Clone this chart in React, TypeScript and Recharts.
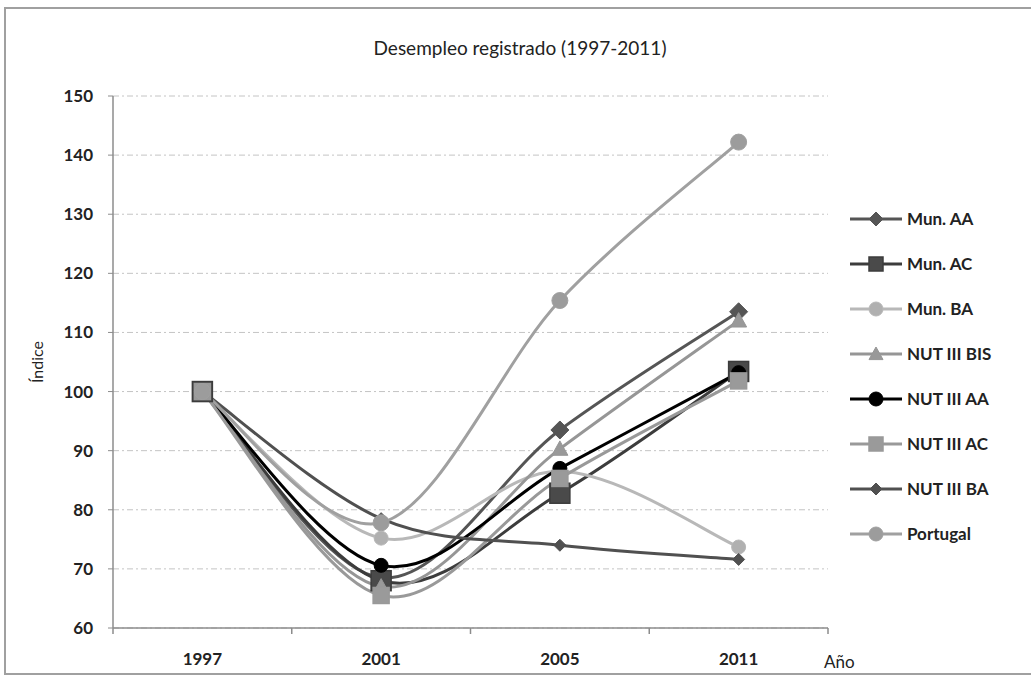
import React from 'react';
import { LineChart, Line, XAxis, YAxis, CartesianGrid } from 'recharts';

const years = ['1997', '2001', '2005', '2011'];
const yTicks = [60, 70, 80, 90, 100, 110, 120, 130, 140, 150];

const munAA = [100, 68.5, 93.5, 113.5];
const munAC = [100, 68, 82.8, 103.4];
const munBA = [100, 75.2, 86.5, 73.7];
const nutBIS = [100, 67, 90.3, 112];
const nutAA = [100, 70.6, 87, 103.2];
const nutAC = [100, 65.5, 85.3, 101.8];
const nutBA = [100, 78.5, 74, 71.6];
const portugal = [100, 77.8, 115.4, 142.2];

type Shape = 'diamond' | 'square' | 'circle' | 'triangle' | 'smallDiamond';

const series: { key: string; name: string; values: number[]; color: string; fill: string; shape: Shape; size: number }[] = [
  { key: 'munAA', name: 'Mun. AA', values: munAA, color: '#555555', fill: '#555555', shape: 'diamond', size: 9 },
  { key: 'munAC', name: 'Mun. AC', values: munAC, color: '#3c3c3c', fill: '#4a4a4a', shape: 'square', size: 10 },
  { key: 'munBA', name: 'Mun. BA', values: munBA, color: '#b8b8b8', fill: '#b0b0b0', shape: 'circle', size: 7 },
  { key: 'nutBIS', name: 'NUT III BIS', values: nutBIS, color: '#969696', fill: '#999999', shape: 'triangle', size: 8 },
  { key: 'nutAA', name: 'NUT III AA', values: nutAA, color: '#000000', fill: '#000000', shape: 'circle', size: 7 },
  { key: 'nutAC', name: 'NUT III AC', values: nutAC, color: '#999999', fill: '#9a9a9a', shape: 'square', size: 8 },
  { key: 'nutBA', name: 'NUT III BA', values: nutBA, color: '#505050', fill: '#505050', shape: 'smallDiamond', size: 6 },
  { key: 'portugal', name: 'Portugal', values: portugal, color: '#a0a0a0', fill: '#9c9c9c', shape: 'circle', size: 8 },
];

const data = years.map((y, i) => {
  const row: Record<string, number | string> = { idx: i, year: y };
  series.forEach((s) => {
    row[s.key] = s.values[i];
  });
  return row;
});

// smoothing close to what Excel does (catmull-rom, bezier 1/6)
const smoothCurve = (context: any) => {
  let pts: number[][] = [];
  return {
    areaStart() {},
    areaEnd() {},
    lineStart() {
      pts = [];
    },
    point(x: number, y: number) {
      pts.push([+x, +y]);
    },
    lineEnd() {
      const n = pts.length;
      if (!n) return;
      context.moveTo(pts[0][0], pts[0][1]);
      for (let i = 0; i < n - 1; i++) {
        const p0 = pts[Math.max(i - 1, 0)];
        const p1 = pts[i];
        const p2 = pts[i + 1];
        const p3 = pts[Math.min(i + 2, n - 1)];
        context.bezierCurveTo(
          p1[0] + (p2[0] - p0[0]) / 6,
          p1[1] + (p2[1] - p0[1]) / 6,
          p2[0] - (p3[0] - p1[0]) / 6,
          p2[1] - (p3[1] - p1[1]) / 6,
          p2[0],
          p2[1]
        );
      }
    },
  };
};

const Marker = ({ cx, cy, shape, size, color, fill }: any) => {
  if (cx == null || cy == null) return null;
  const s = size;
  if (shape === 'square') {
    return <rect x={cx - s} y={cy - s} width={s * 2} height={s * 2} fill={fill} stroke={color} strokeWidth={1.5} />;
  }
  if (shape === 'circle') {
    return <circle cx={cx} cy={cy} r={s} fill={fill} stroke={color} strokeWidth={1} />;
  }
  if (shape === 'triangle') {
    return (
      <polygon
        points={`${cx},${cy - s} ${cx + s},${cy + s * 0.8} ${cx - s},${cy + s * 0.8}`}
        fill={fill}
        stroke={color}
        strokeWidth={1}
      />
    );
  }
  return (
    <polygon
      points={`${cx},${cy - s} ${cx + s},${cy} ${cx},${cy + s} ${cx - s},${cy}`}
      fill={fill}
      stroke={color}
      strokeWidth={1}
    />
  );
};

const XTick = (props: any) => {
  const { x, y, payload } = props;
  const v = payload.value;
  if (Number.isInteger(v)) {
    return (
      <text x={x} y={y + 37} textAnchor="middle" fontSize={17} fontWeight={700} fill="#222">
        {years[v]}
      </text>
    );
  }
  return (
    <g>
      <line x1={x} x2={x} y1={y} y2={y + 6} stroke="#8c8c8c" strokeWidth={1.5} />
      {v === 3.5 && (
        <text x={x - 4} y={y + 40} fontSize={17} fill="#222">
          Año
        </text>
      )}
    </g>
  );
};

const LegendBox = () => (
  <div style={{ position: 'absolute', left: 850, top: 196, width: 180 }}>
    {series.map((s) => (
      <div key={s.key} style={{ display: 'flex', alignItems: 'center', height: 45 }}>
        <svg width={56} height={24}>
          <line x1={0} x2={52} y1={12} y2={12} stroke={s.color} strokeWidth={3} />
          <Marker cx={26} cy={12} shape={s.shape} size={Math.min(s.size, 7)} color={s.color} fill={s.fill} />
        </svg>
        <span style={{ fontSize: 17, fontWeight: 700, color: '#222', marginLeft: 1 }}>{s.name}</span>
      </div>
    ))}
  </div>
);

export default function App() {
  return (
    <div style={{ position: 'absolute', left: 0, top: 0, width: 1031, height: 681, background: '#fff', fontFamily: 'Lato, sans-serif' }}>
      <div
        style={{
          position: 'absolute',
          left: 4,
          top: 7,
          width: 1030,
          height: 668,
          border: '2px solid #a0a0a0',
          boxSizing: 'border-box',
        }}
      />
      <div style={{ position: 'absolute', left: 0, top: 36, width: 1040, textAlign: 'center', fontSize: 19, color: '#222' }}>
        Desempleo registrado (1997-2011)
      </div>
      <LineChart width={1031} height={681} data={data} margin={{ top: 96, right: 203, bottom: 23, left: 53 }}>
        <CartesianGrid vertical={false} stroke="#c4c4c4" strokeDasharray="6 3 2 3" />
        <XAxis
          dataKey="idx"
          type="number"
          domain={[-0.5, 3.5]}
          ticks={[-0.5, 0, 0.5, 1, 1.5, 2, 2.5, 3, 3.5]}
          interval={0}
          tickLine={false}
          tickSize={0}
          tickMargin={0}
          height={30}
          axisLine={{ stroke: '#8c8c8c', strokeWidth: 1.5 }}
          tick={<XTick />}
        />
        <YAxis
          width={60}
          domain={[60, 150]}
          ticks={yTicks}
          interval={0}
          tickSize={5}
          tickMargin={15}
          axisLine={{ stroke: '#8c8c8c', strokeWidth: 1.5 }}
          tickLine={{ stroke: '#8c8c8c' }}
          tick={{ fontSize: 17, fontWeight: 700, fill: '#222' }}
          label={{
            content: (p: any) => {
              const vb = p.viewBox;
              const cx = vb.x - 10;
              const cy = vb.y + vb.height / 2;
              return (
                <text x={cx} y={cy} transform={`rotate(-90 ${cx} ${cy})`} textAnchor="middle" fontSize={16} fill="#222">
                  Índice
                </text>
              );
            },
          }}
        />
        {series.map((s) => (
          <Line
            key={s.key}
            dataKey={s.key}
            name={s.name}
            type={smoothCurve as any}
            stroke={s.color}
            strokeWidth={3}
            isAnimationActive={false}
            dot={(p: any) => <Marker key={`${s.key}-${p.index}`} cx={p.cx} cy={p.cy} shape={s.shape} size={s.size} color={s.color} fill={s.fill} />}
            activeDot={false}
          />
        ))}
      </LineChart>
      <LegendBox />
    </div>
  );
}
